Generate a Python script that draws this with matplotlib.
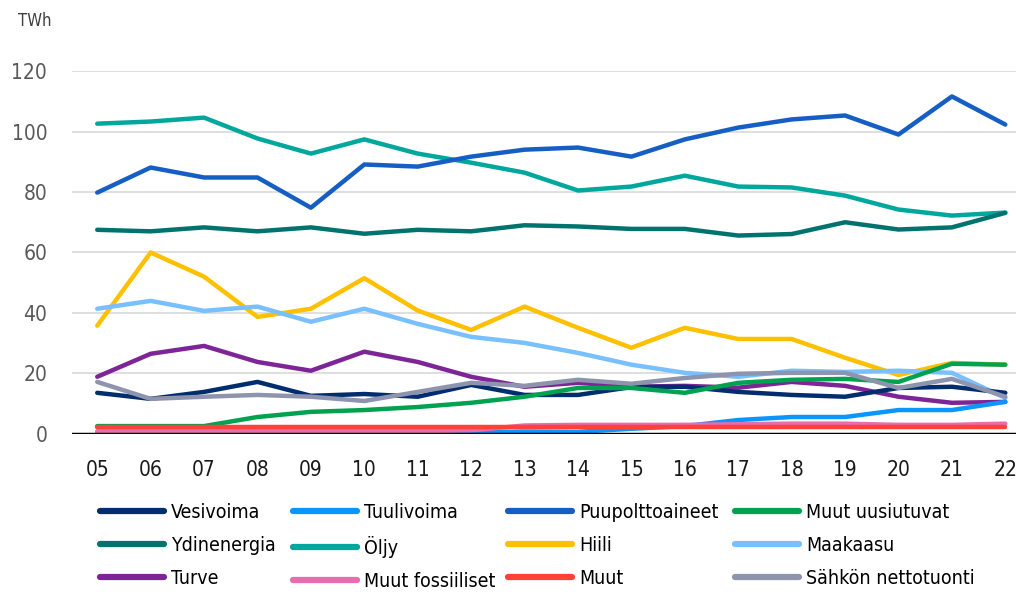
import matplotlib.pyplot as plt
from matplotlib import font_manager

# years shown as two-digit labels
years = ['05', '06', '07', '08', '09', '10', '11', '12', '13', '14', '15', '16', '17', '18', '19', '20', '21', '22']

vesivoima = [13.6, 11.6, 13.9, 17.2, 12.6, 13.2, 12.3, 16.2, 12.9, 12.9, 15.5, 15.6, 13.9, 12.9, 12.3, 15.2, 15.6, 13.6]
tuulivoima = [0.2, 0.2, 0.2, 0.3, 0.3, 0.3, 0.5, 0.5, 0.8, 0.7, 1.7, 2.6, 4.6, 5.6, 5.6, 7.9, 7.9, 10.6]
puu = [79.8, 88.1, 84.8, 84.8, 74.8, 89.1, 88.4, 91.7, 94.0, 94.7, 91.7, 97.4, 101.3, 104.0, 105.3, 99.0, 111.6, 102.3]
muut_uus = [2.6, 2.6, 2.6, 5.6, 7.3, 7.9, 8.9, 10.3, 12.3, 15.2, 15.2, 13.6, 16.9, 17.9, 18.2, 17.2, 23.2, 22.9]
ydin = [67.5, 67.0, 68.3, 67.0, 68.3, 66.2, 67.5, 67.0, 69.0, 68.6, 67.8, 67.8, 65.6, 66.1, 70.0, 67.6, 68.3, 73.1]
oljy = [102.6, 103.3, 104.6, 97.7, 92.7, 97.4, 92.7, 89.7, 86.4, 80.5, 81.8, 85.4, 81.8, 81.5, 78.8, 74.2, 72.2, 73.2]
hiili = [35.8, 60.0, 52.0, 38.7, 41.4, 51.5, 40.8, 34.4, 42.1, 35.1, 28.5, 35.1, 31.4, 31.4, 25.2, 19.5, 23.5, 22.9]
maakaasu = [41.4, 44.0, 40.7, 42.1, 37.1, 41.4, 36.4, 32.1, 30.1, 26.8, 22.9, 20.2, 18.9, 20.9, 20.5, 20.9, 20.2, 11.9]
turve = [18.9, 26.5, 29.1, 23.8, 20.9, 27.2, 23.8, 18.9, 15.6, 16.9, 15.6, 15.9, 15.3, 17.2, 15.9, 12.3, 10.3, 10.6]
muut_fos = [0.9, 0.9, 0.9, 0.9, 0.9, 0.9, 0.9, 1.2, 2.8, 3.0, 3.0, 3.0, 3.2, 3.4, 3.4, 3.0, 3.0, 3.4]
muut = [2.2, 2.2, 2.2, 2.2, 2.2, 2.2, 2.2, 2.2, 2.2, 2.2, 2.2, 2.2, 2.2, 2.2, 2.2, 2.2, 2.2, 2.2]
tuonti = [17.2, 11.6, 12.3, 12.9, 12.3, 10.9, 13.9, 16.9, 15.9, 17.9, 16.6, 18.5, 19.9, 20.2, 20.2, 15.2, 18.2, 12.3]

series = [
    ('Vesivoima', vesivoima, '#002D6E'),
    ('Tuulivoima', tuulivoima, '#0A96FF'),
    ('Puupolttoaineet', puu, '#155EC4'),
    ('Muut uusiutuvat', muut_uus, '#00A250'),
    ('Ydinenergia', ydin, '#00736E'),
    ('Öljy', oljy, '#00A79D'),
    ('Hiili', hiili, '#FFC000'),
    ('Maakaasu', maakaasu, '#78C0FF'),
    ('Turve', turve, '#7D2597'),
    ('Muut fossiiliset', muut_fos, '#E76DAE'),
    ('Muut', muut, '#FF4136'),
    ('Sähkön nettotuonti', tuonti, '#8E93AE'),
]

names = set(f.name for f in font_manager.fontManager.ttflist)
fam = 'Liberation Sans Narrow' if 'Liberation Sans Narrow' in names else 'DejaVu Sans'
plt.rcParams['font.family'] = [fam, 'DejaVu Sans']
plt.rcParams['font.stretch'] = 'condensed'

fig = plt.figure(figsize=(10.16, 5.92), dpi=100)
ax = fig.add_axes([0.071, 0.267, 0.929, 0.613])

x = list(range(len(years)))
handles = {}
# draw order: background series first
draw_order = ['Öljy', 'Puupolttoaineet', 'Ydinenergia', 'Hiili', 'Maakaasu', 'Turve',
              'Vesivoima', 'Muut uusiutuvat', 'Sähkön nettotuonti', 'Tuulivoima',
              'Muut fossiiliset', 'Muut']
lookup = {n: (v, c) for n, v, c in series}
for n in draw_order:
    v, c = lookup[n]
    h, = ax.plot(x, v, color=c, lw=3.2, label=n, solid_capstyle='round')
    handles[n] = h

ax.axhline(0, color='black', lw=2.5, zorder=5)
ax.set_xlim(-0.47, 17.2)
ax.set_ylim(0, 120)
ax.set_yticks([0, 20, 40, 60, 80, 100, 120])
ax.grid(axis='y', color='#d9d9d9', lw=1.2)
ax.set_axisbelow(True)
for s in ax.spines.values():
    s.set_visible(False)
ax.set_xticks(x)
ax.set_xticklabels(years)
ax.tick_params(axis='y', length=0, pad=18, labelsize=15, labelcolor='#595959')
ax.tick_params(axis='x', length=0, pad=19, labelsize=15, labelcolor='#1a1a1a')

fig.text(0.018, 0.965, 'TWh', fontsize=12, color='#404040', va='center')

# one small legend per column so the columns sit where the reference has them
col_x = [100, 293, 508, 735]
for c in range(4):
    labs = [series[r * 4 + c][0] for r in range(3)]
    leg = fig.legend([handles[n] for n in labs], labs, loc='upper left',
                     bbox_to_anchor=(col_x[c] / 1016, 1 - 503 / 592),
                     borderaxespad=0, borderpad=0, frameon=False, fontsize=14,
                     handlelength=3.3, handletextpad=0.35, labelspacing=0.72)
    for l in leg.get_lines():
        l.set_linewidth(4.5)

fig.savefig('out.png', dpi=100)
